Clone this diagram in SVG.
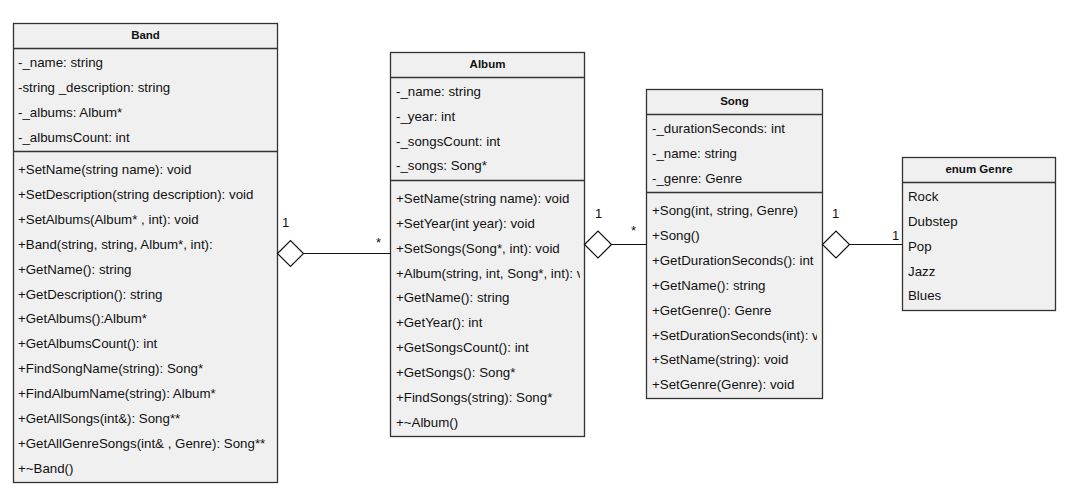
<svg xmlns="http://www.w3.org/2000/svg" width="1090" height="500" viewBox="0 0 1090 500">
<style>
.box{fill:#f0f0f0;stroke:#333;stroke-width:1.3}
.sep{stroke:#333;stroke-width:1.3}
.t{font-family:"Liberation Sans",Arial,sans-serif;font-size:13.3px;fill:#111}
.h{font-family:"Liberation Sans",Arial,sans-serif;font-size:11.5px;font-weight:bold;fill:#111;text-anchor:middle}
.ln{stroke:#111;stroke-width:1.2;fill:none}
.dia{fill:#fff;stroke:#111;stroke-width:1.2}
.lbl{font-family:"Liberation Sans",Arial,sans-serif;font-size:13px;fill:#111}
</style>
<defs>
<clipPath id="cAlbum"><rect x="391" y="52" width="189" height="385"/></clipPath>
<clipPath id="cSong"><rect x="647" y="90" width="170" height="309"/></clipPath>
</defs>
<rect width="1090" height="500" fill="#fff"/>

<g id="Band">
<rect class="box" x="13.5" y="23.5" width="264" height="459"/>
<line class="sep" x1="13.5" y1="48.5" x2="277.5" y2="48.5"/>
<line class="sep" x1="13.5" y1="151.5" x2="277.5" y2="151.5"/>
<text class="h" x="145.5" y="39">Band</text>
<text class="t" x="18" y="67">-_name: string</text>
<text class="t" x="18" y="92">-string _description: string</text>
<text class="t" x="18" y="117">-_albums: Album*</text>
<text class="t" x="18" y="142">-_albumsCount: int</text>
<text class="t" x="18" y="174">+SetName(string name): void</text>
<text class="t" x="18" y="199">+SetDescription(string description): void</text>
<text class="t" x="18" y="224">+SetAlbums(Album* , int): void</text>
<text class="t" x="18" y="249">+Band(string, string, Album*, int):</text>
<text class="t" x="18" y="274">+GetName(): string</text>
<text class="t" x="18" y="299">+GetDescription(): string</text>
<text class="t" x="18" y="323">+GetAlbums():Album*</text>
<text class="t" x="18" y="348">+GetAlbumsCount(): int</text>
<text class="t" x="18" y="373">+FindSongName(string): Song*</text>
<text class="t" x="18" y="398">+FindAlbumName(string): Album*</text>
<text class="t" x="18" y="423">+GetAllSongs(int&amp;): Song**</text>
<text class="t" x="18" y="448">+GetAllGenreSongs(int&amp; , Genre): Song**</text>
<text class="t" x="18" y="473">+~Band()</text>
</g>

<g id="Album">
<rect class="box" x="390.5" y="52.5" width="194" height="384"/>
<line class="sep" x1="390.5" y1="77.5" x2="584.5" y2="77.5"/>
<line class="sep" x1="390.5" y1="180.5" x2="584.5" y2="180.5"/>
<text class="h" x="487.5" y="68">Album</text>
<g clip-path="url(#cAlbum)">
<text class="t" x="396" y="96">-_name: string</text>
<text class="t" x="396" y="121">-_year: int</text>
<text class="t" x="396" y="146">-_songsCount: int</text>
<text class="t" x="396" y="170">-_songs: Song*</text>
<text class="t" x="396" y="203">+SetName(string name): void</text>
<text class="t" x="396" y="228">+SetYear(int year): void</text>
<text class="t" x="396" y="253">+SetSongs(Song*, int): void</text>
<text class="t" x="396" y="278">+Album(string, int, Song*, int): void</text>
<text class="t" x="396" y="302">+GetName(): string</text>
<text class="t" x="396" y="327">+GetYear(): int</text>
<text class="t" x="396" y="352">+GetSongsCount(): int</text>
<text class="t" x="396" y="377">+GetSongs(): Song*</text>
<text class="t" x="396" y="402">+FindSongs(string): Song*</text>
<text class="t" x="396" y="427">+~Album()</text>
</g>
</g>

<g id="Song">
<rect class="box" x="646.5" y="89.5" width="176" height="309"/>
<line class="sep" x1="646.5" y1="114.5" x2="822.5" y2="114.5"/>
<line class="sep" x1="646.5" y1="192.5" x2="822.5" y2="192.5"/>
<text class="h" x="734.5" y="105">Song</text>
<g clip-path="url(#cSong)">
<text class="t" x="652" y="133">-_durationSeconds: int</text>
<text class="t" x="652" y="158">-_name: string</text>
<text class="t" x="652" y="183">-_genre: Genre</text>
<text class="t" x="652" y="215">+Song(int, string, Genre)</text>
<text class="t" x="652" y="240">+Song()</text>
<text class="t" x="652" y="265">+GetDurationSeconds(): int</text>
<text class="t" x="652" y="290">+GetName(): string</text>
<text class="t" x="652" y="315">+GetGenre(): Genre</text>
<text class="t" x="652" y="340">+SetDurationSeconds(int): void</text>
<text class="t" x="652" y="364">+SetName(string): void</text>
<text class="t" x="652" y="389">+SetGenre(Genre): void</text>
</g>
</g>

<g id="Genre">
<rect class="box" x="902.5" y="157.5" width="153" height="153"/>
<line class="sep" x1="902.5" y1="182.5" x2="1055.5" y2="182.5"/>
<text class="h" x="979" y="173">enum Genre</text>
<text class="t" x="908" y="201">Rock</text>
<text class="t" x="908" y="226">Dubstep</text>
<text class="t" x="908" y="251">Pop</text>
<text class="t" x="908" y="276">Jazz</text>
<text class="t" x="908" y="300">Blues</text>
</g>

<g id="connectors">
<line class="ln" x1="303.5" y1="253.5" x2="390.5" y2="253.5"/>
<polygon class="dia" points="277.5,253.5 290.5,240.5 303.5,253.5 290.5,266.5"/>
<text class="lbl" x="282" y="227">1</text>
<text class="lbl" x="376" y="247">*</text>

<line class="ln" x1="611.5" y1="244.5" x2="646.5" y2="244.5"/>
<polygon class="dia" points="584.5,244.5 598,231 611.5,244.5 598,258"/>
<text class="lbl" x="595" y="218">1</text>
<text class="lbl" x="631" y="235">*</text>

<line class="ln" x1="849.5" y1="244.5" x2="902.5" y2="244.5"/>
<polygon class="dia" points="822.5,244.5 836,231 849.5,244.5 836,258"/>
<text class="lbl" x="832" y="218">1</text>
<text class="lbl" x="892" y="240">1</text>
</g>
</svg>
